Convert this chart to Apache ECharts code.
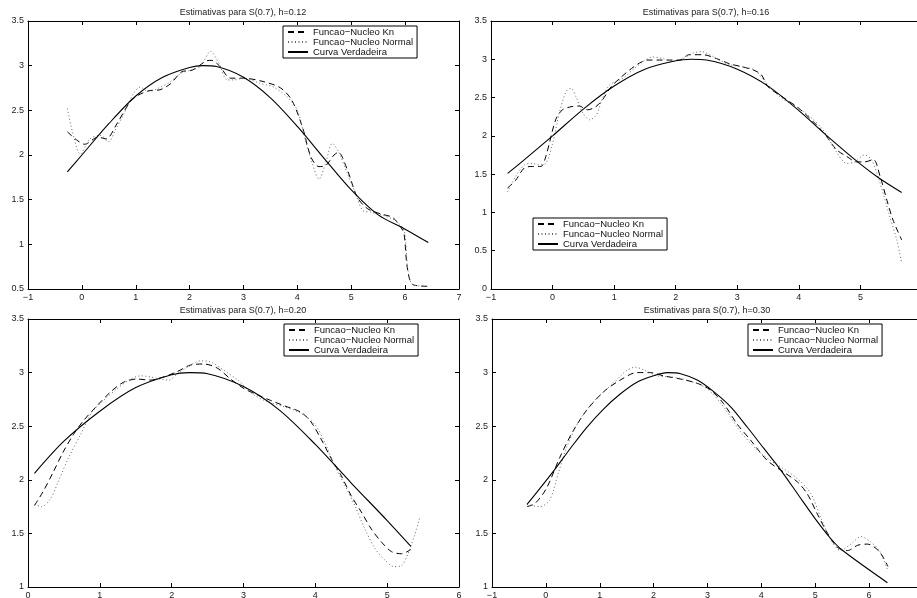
<!DOCTYPE html>
<html>
<head>
<meta charset="utf-8">
<script src="https://cdn.jsdelivr.net/npm/echarts@6/dist/echarts.min.js"></script>
<style>
  html, body { margin: 0; background: #fff; }
  #chart { width: 917px; height: 598px; }
</style>
</head>
<body>
<div id="chart"></div>
<script>
// series names (legend)
const seriesNames = ['Funcao\u2212Nucleo Kn', 'Funcao\u2212Nucleo Normal', 'Curva Verdadeira'];
const bandwidths = ['0.12', '0.16', '0.20', '0.30'];

// h = 0.12
const kn012 = [[-0.27, 2.26], [-0.1, 2.17], [0.05, 2.12], [0.3, 2.2], [0.45, 2.18], [0.65, 2.35], [0.9, 2.6],
  [1.05, 2.67], [1.25, 2.72], [1.45, 2.73], [1.65, 2.8], [1.85, 2.93], [2.05, 2.95], [2.3, 3.05], [2.4, 3.06],
  [2.55, 3.0], [2.76, 2.86], [3.0, 2.86], [3.38, 2.82], [3.69, 2.75], [3.9, 2.61], [4.1, 2.3], [4.25, 1.98],
  [4.4, 1.87], [4.52, 1.88], [4.68, 2.0], [4.76, 2.03], [4.93, 1.83], [5.11, 1.53], [5.3, 1.4], [5.55, 1.34],
  [5.77, 1.3], [5.92, 1.19], [5.98, 1.12], [6.04, 0.74], [6.14, 0.55], [6.42, 0.53]];
const normal012 = [[-0.27, 2.52], [-0.15, 2.2], [-0.03, 2.01], [0.15, 2.18], [0.34, 2.22], [0.5, 2.15], [0.62, 2.28],
  [0.78, 2.46], [0.96, 2.69], [1.08, 2.76], [1.24, 2.71], [1.43, 2.75], [1.64, 2.82], [1.83, 2.91], [2.02, 2.95],
  [2.2, 2.99], [2.39, 3.16], [2.54, 3.03], [2.7, 2.84], [2.82, 2.84], [3.0, 2.86], [3.32, 2.8], [3.56, 2.76],
  [3.81, 2.65], [4.0, 2.5], [4.15, 2.16], [4.28, 1.9], [4.4, 1.73], [4.52, 1.9], [4.65, 2.13], [4.77, 2.03],
  [4.93, 1.79], [5.08, 1.57], [5.21, 1.38], [5.36, 1.36], [5.61, 1.32], [5.8, 1.27], [5.95, 1.19], [6.0, 1.1],
  [6.05, 0.72], [6.14, 0.55], [6.42, 0.53]];
const true012 = [[-0.27, 1.81], [0, 2.0], [0.5, 2.35], [1, 2.66], [1.5, 2.87], [2, 2.98], [2.25, 3.0], [2.5, 2.99],
  [3, 2.87], [3.5, 2.64], [4, 2.32], [4.5, 1.96], [5, 1.61], [5.5, 1.33], [6, 1.17], [6.43, 1.02]];

// h = 0.16
const kn016 = [[-0.73, 1.32], [-0.6, 1.42], [-0.46, 1.58], [-0.33, 1.6], [-0.19, 1.6], [-0.11, 1.73], [0.05, 2.21],
  [0.16, 2.34], [0.3, 2.38], [0.43, 2.39], [0.57, 2.34], [0.7, 2.38], [0.81, 2.47], [0.95, 2.64], [1.09, 2.75],
  [1.25, 2.86], [1.41, 2.95], [1.55, 2.99], [1.74, 2.99], [1.9, 2.99], [2.06, 2.99], [2.22, 3.06], [2.44, 3.06],
  [2.66, 3.01], [2.88, 2.94], [3.09, 2.9], [3.26, 2.86], [3.39, 2.8], [3.5, 2.64], [3.75, 2.5], [4, 2.36],
  [4.29, 2.14], [4.45, 1.99], [4.61, 1.82], [4.78, 1.73], [4.94, 1.66], [5.07, 1.66], [5.21, 1.69], [5.32, 1.47],
  [5.43, 1.16], [5.53, 0.9], [5.67, 0.64]];
const normal016 = [[-0.73, 1.27], [-0.6, 1.47], [-0.46, 1.62], [-0.33, 1.64], [-0.22, 1.62], [-0.11, 1.64], [0, 1.9],
  [0.11, 2.3], [0.22, 2.58], [0.3, 2.62], [0.38, 2.51], [0.49, 2.3], [0.6, 2.21], [0.71, 2.27], [0.81, 2.49],
  [0.92, 2.66], [1.03, 2.71], [1.14, 2.75], [1.3, 2.86], [1.47, 2.97], [1.63, 3.03], [1.79, 3.01], [1.95, 2.97],
  [2.12, 3.01], [2.28, 3.08], [2.42, 3.1], [2.55, 3.06], [2.71, 2.99], [2.88, 2.93], [3.09, 2.9], [3.28, 2.86],
  [3.45, 2.71], [3.69, 2.51], [3.96, 2.38], [4.18, 2.25], [4.39, 2.08], [4.61, 1.79], [4.78, 1.64], [4.91, 1.66],
  [5.07, 1.75], [5.18, 1.69], [5.32, 1.38], [5.46, 0.99], [5.59, 0.64], [5.67, 0.34]];
const true016 = [[-0.73, 1.51], [-0.5, 1.66], [0, 2.0], [0.5, 2.35], [1, 2.65], [1.5, 2.87], [2, 2.98], [2.25, 3.0],
  [2.5, 2.99], [3, 2.87], [3.5, 2.65], [4, 2.33], [4.5, 1.97], [5, 1.63], [5.3, 1.45], [5.67, 1.26]];

// h = 0.20
const kn020 = [[0.09, 1.76], [0.21, 1.89], [0.35, 2.07], [0.49, 2.26], [0.63, 2.42], [0.77, 2.55], [0.96, 2.69],
  [1.15, 2.82], [1.33, 2.91], [1.52, 2.94], [1.7, 2.93], [1.89, 2.96], [2.08, 3.01], [2.26, 3.07], [2.45, 3.08],
  [2.64, 3.04], [2.82, 2.94], [3.01, 2.85], [3.2, 2.79], [3.38, 2.74], [3.57, 2.69], [3.8, 2.63], [3.94, 2.54],
  [4.08, 2.38], [4.22, 2.2], [4.36, 2.04], [4.5, 1.85], [4.64, 1.7], [4.78, 1.54], [4.92, 1.42], [5.06, 1.33],
  [5.2, 1.31], [5.33, 1.35]];
const normal020 = [[0.09, 1.77], [0.19, 1.75], [0.31, 1.82], [0.42, 1.98], [0.56, 2.2], [0.73, 2.42], [0.89, 2.63],
  [1.05, 2.74], [1.24, 2.85], [1.43, 2.94], [1.57, 2.97], [1.7, 2.96], [1.84, 2.94], [1.96, 2.93], [2.08, 2.99],
  [2.22, 3.05], [2.4, 3.11], [2.54, 3.1], [2.73, 3.02], [2.92, 2.93], [3.15, 2.79], [3.33, 2.73], [3.57, 2.68],
  [3.8, 2.62], [3.99, 2.52], [4.13, 2.35], [4.27, 2.13], [4.41, 1.95], [4.55, 1.76], [4.69, 1.54], [4.83, 1.36],
  [4.97, 1.25], [5.1, 1.19], [5.2, 1.2], [5.29, 1.31], [5.38, 1.48], [5.45, 1.64]];
const true020 = [[0.09, 2.06], [0.5, 2.36], [1, 2.64], [1.5, 2.86], [2, 2.98], [2.25, 3.0], [2.5, 2.99], [3, 2.87],
  [3.5, 2.65], [4, 2.33], [4.5, 1.97], [5, 1.62], [5.33, 1.38]];

// h = 0.30
const kn030 = [[-0.35, 1.75], [-0.2, 1.78], [0.01, 1.92], [0.26, 2.21], [0.51, 2.46], [0.76, 2.65], [1.07, 2.82],
  [1.38, 2.93], [1.69, 3.0], [1.94, 3.0], [2.18, 2.97], [2.5, 2.94], [2.81, 2.9], [3.05, 2.84], [3.3, 2.71],
  [3.55, 2.52], [3.8, 2.37], [4.11, 2.18], [4.42, 2.07], [4.67, 1.98], [4.85, 1.87], [5.04, 1.68], [5.23, 1.5],
  [5.41, 1.37], [5.6, 1.34], [5.79, 1.39], [5.97, 1.4], [6.19, 1.33], [6.35, 1.19]];
const normal030 = [[-0.35, 1.77], [-0.11, 1.75], [0.07, 1.81], [0.23, 2.06], [0.39, 2.31], [0.63, 2.56], [0.94, 2.76],
  [1.25, 2.9], [1.5, 3.02], [1.66, 3.05], [1.84, 3.02], [2.06, 2.97], [2.31, 2.96], [2.62, 2.93], [2.99, 2.85],
  [3.3, 2.68], [3.61, 2.45], [3.92, 2.28], [4.17, 2.18], [4.36, 2.12], [4.67, 2.01], [4.92, 1.87], [5.1, 1.65],
  [5.29, 1.44], [5.47, 1.34], [5.66, 1.4], [5.85, 1.47], [6.03, 1.42], [6.19, 1.34], [6.35, 1.15]];
const true030 = [[-0.35, 1.77], [-0.11, 1.92], [0.17, 2.1], [0.45, 2.29], [0.76, 2.49], [1.07, 2.66], [1.38, 2.8],
  [1.69, 2.91], [2.0, 2.97], [2.25, 3.0], [2.5, 2.99], [2.81, 2.93], [3.12, 2.82], [3.43, 2.68], [3.74, 2.49],
  [4.05, 2.29], [4.36, 2.09], [4.67, 1.87], [4.98, 1.65], [5.29, 1.45], [5.51, 1.34], [6.34, 1.04]];

const font = '"Liberation Sans", Arial, Helvetica, sans-serif';

const panels = [
  { kn: kn012, normal: normal012, curve: true012, xRange: [-1, 7], yRange: [0.5, 3.5],
    grid: { left: 28, top: 21, width: 431, height: 268 }, legendPos: { left: 283, top: 26 } },
  { kn: kn016, normal: normal016, curve: true016, xRange: [-1, 6], yRange: [0, 3.5],
    grid: { left: 491, top: 21, width: 431, height: 268 }, legendPos: { left: 533, top: 218 } },
  { kn: kn020, normal: normal020, curve: true020, xRange: [0, 6], yRange: [1, 3.5],
    grid: { left: 28, top: 319, width: 431, height: 268 }, legendPos: { left: 284, top: 324 } },
  { kn: kn030, normal: normal030, curve: true030, xRange: [-1, 7], yRange: [1, 3.5],
    grid: { left: 492, top: 319, width: 431, height: 268 }, legendPos: { left: 748, top: 324 } },
];

const axisLine = { onZero: false, lineStyle: { color: '#000', width: 1 } };
const axisTick = { inside: true, length: 4, lineStyle: { color: '#000' } };
const labelStyle = { fontSize: 9, color: '#222', fontFamily: font };
const minus = (v) => String(v).replace('-', '\u2212');

const xAxis = [];
const yAxis = [];
const series = [];
const graphic = [];

panels.forEach((p, i) => {
  // bottom + top (box) x axes
  xAxis.push({
    gridIndex: i, type: 'value', min: p.xRange[0], max: p.xRange[1], interval: 1, position: 'bottom',
    axisLine, axisTick, splitLine: { show: false },
    axisLabel: { ...labelStyle, margin: 4, formatter: minus },
  });
  xAxis.push({
    gridIndex: i, type: 'value', min: p.xRange[0], max: p.xRange[1], interval: 1, position: 'top',
    axisLine, axisTick, splitLine: { show: false }, axisLabel: { show: false },
  });
  // left + right y axes
  yAxis.push({
    gridIndex: i, type: 'value', min: p.yRange[0], max: p.yRange[1], interval: 0.5, position: 'left',
    axisLine, axisTick, splitLine: { show: false },
    axisLabel: { ...labelStyle, margin: 4 },
  });
  yAxis.push({
    gridIndex: i, type: 'value', min: p.yRange[0], max: p.yRange[1], interval: 0.5, position: 'right',
    axisLine, axisTick, splitLine: { show: false }, axisLabel: { show: false },
  });

  const common = {
    type: 'line', xAxisIndex: i * 2, yAxisIndex: i * 2, symbol: 'none', smooth: 0.3, animation: false,
  };
  series.push(
    { ...common, name: seriesNames[0], data: p.kn, color: '#000', lineStyle: { color: '#000', width: 1, type: [6, 4] } },
    { ...common, name: seriesNames[1], data: p.normal, color: '#666', lineStyle: { color: '#666', width: 1, type: [1, 2.5] } },
    { ...common, name: seriesNames[2], data: p.curve, color: '#000', lineStyle: { color: '#000', width: 1.1 } },
  );

  // panel title
  graphic.push({
    type: 'text',
    x: p.grid.left + 215,
    y: p.grid.top - 8,
    style: {
      text: 'Estimativas para S(0.7), h=' + bandwidths[i],
      fontSize: 9, fontFamily: font, fill: '#222',
      textAlign: 'center', textVerticalAlign: 'middle',
    },
  });
});

const legend = panels.map((p) => ({
  orient: 'vertical', left: p.legendPos.left, top: p.legendPos.top,
  data: seriesNames, selectedMode: false,
  itemWidth: 20, itemHeight: 8, itemGap: 0,
  padding: [1, 4, 1, 4],
  itemStyle: { opacity: 0 },
  borderColor: '#000', borderWidth: 1, backgroundColor: '#fff',
  textStyle: { fontSize: 9.5, color: '#111', fontFamily: font, lineHeight: 9 },
}));

const chart = echarts.init(document.getElementById('chart'));
chart.setOption({
  backgroundColor: '#fff',
  animation: false,
  grid: panels.map((p) => ({ ...p.grid, containLabel: false, outerBoundsMode: 'none' })),
  xAxis,
  yAxis,
  legend,
  series,
  graphic,
});
</script>
</body>
</html>
